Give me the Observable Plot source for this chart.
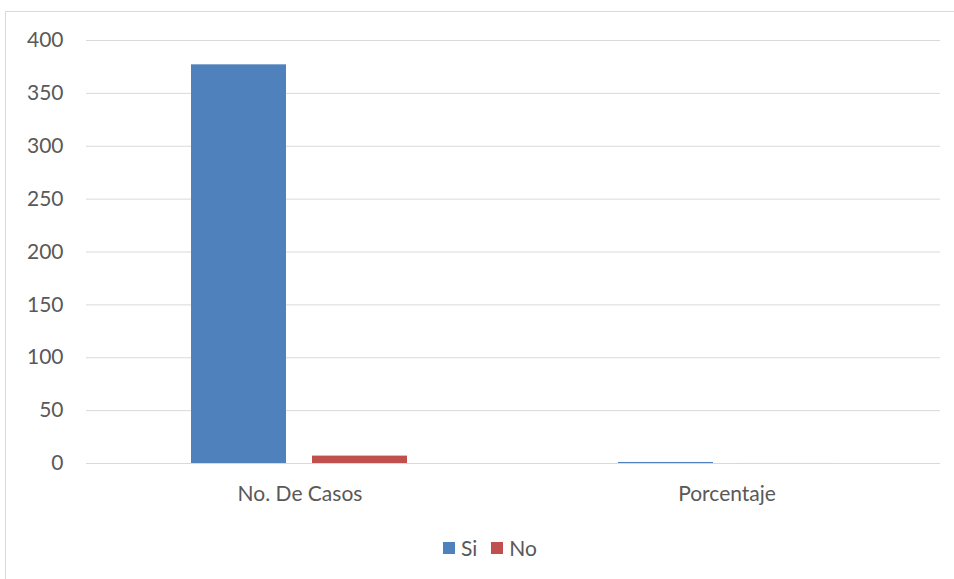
<!DOCTYPE html>
<html>
<head>
<meta charset="utf-8">
<script src="https://cdn.jsdelivr.net/npm/d3@7"></script>
<script src="https://cdn.jsdelivr.net/npm/@observablehq/plot@0.6"></script>
<style>
  body { margin: 0; background: #fff; font-family: Lato, "Noto Sans", sans-serif; }
  #frame { position: absolute; left: 5px; top: 11px; width: 970px; height: 600px; border: 1px solid #d9d9d9; box-sizing: border-box; }
  #chart { position: absolute; left: 0; top: 0; }
  #legend { position: absolute; left: 0; top: 535px; width: 954px; display: flex; justify-content: center; gap: 14px; font-size: 21px; color: #595959; padding-left: 26px; box-sizing: border-box; }
  #legend span.item { display: flex; align-items: center; gap: 6px; }
  #legend span.sw { width: 12px; height: 12px; display: inline-block; }
</style>
</head>
<body>
<div id="frame"></div>
<div id="chart"></div>
<div id="legend"></div>
<script>
// Categories, series and values
const categories = ["No. De Casos", "Porcentaje"];
const series = ["Si", "No"];
const siValues = [377, 0.98];
const noValues = [7, 0.02];
const yTicks = [0, 50, 100, 150, 200, 250, 300, 350, 400];
const colors = ["#4F81BD", "#C0504D"];

const rows = [];
categories.forEach((c, i) => {
  rows.push({category: c, series: "Si", value: siValues[i]});
  rows.push({category: c, series: "No", value: noValues[i]});
});

const chart = Plot.plot({
  width: 954,
  height: 520,
  marginTop: 40,
  marginBottom: 57,
  marginLeft: 85,
  marginRight: 14,
  style: {fontFamily: "Lato, 'Noto Sans', sans-serif", fontSize: "21px", color: "#595959", background: "transparent"},
  fx: {domain: categories, padding: 0, label: null, tickSize: 0, tickPadding: 23, axis: "bottom"},
  x: {domain: series, axis: null, paddingInner: 0.213, paddingOuter: 0.858},
  y: {domain: [0, 400], ticks: yTicks, tickSize: 0, tickPadding: 23, label: null, tickFormat: d3.format("d")},
  color: {domain: series, range: colors},
  marks: [
    Plot.ruleY(yTicks, {stroke: "#d9d9d9", strokeWidth: 1, strokeOpacity: 1}),
    Plot.barY(rows, {fx: "category", x: "series", y: "value", fill: "series", inset: 0})
  ]
});
document.getElementById("chart").appendChild(chart);

const legend = document.getElementById("legend");
series.forEach((s, i) => {
  const item = document.createElement("span");
  item.className = "item";
  const sw = document.createElement("span");
  sw.className = "sw";
  sw.style.background = colors[i];
  item.appendChild(sw);
  item.appendChild(document.createTextNode(s));
  legend.appendChild(item);
});
</script>
</body>
</html>
